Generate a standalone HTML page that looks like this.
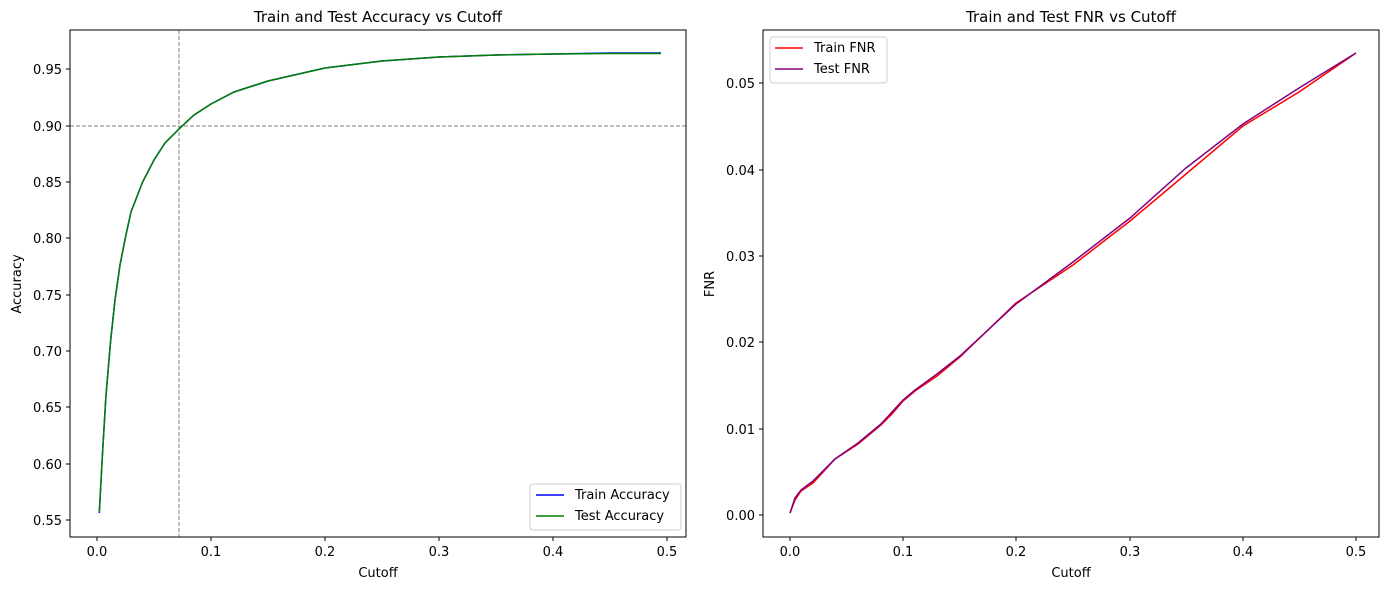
<!DOCTYPE html>
<html><head><style>body{margin:0;background:#fff}svg text{font-family:"DejaVu Sans","Liberation Sans",sans-serif;fill:#000}</style></head><body>
<svg width="1389" height="590" viewBox="0 0 1389 590" xmlns="http://www.w3.org/2000/svg">
<!-- LEFT -->
<text x="378" y="22" font-size="15" text-anchor="middle">Train and Test Accuracy vs Cutoff</text>
<g font-size="13" text-anchor="end">
<text x="62" y="525">0.55</text><text x="62" y="469">0.60</text><text x="62" y="412">0.65</text><text x="62" y="356">0.70</text><text x="62" y="300">0.75</text><text x="62" y="243">0.80</text><text x="62" y="187">0.85</text><text x="62" y="131">0.90</text><text x="62" y="74">0.95</text>
</g>
<g stroke="#000" stroke-width="1"><line x1="66" x2="70" y1="520" y2="520"/><line x1="66" x2="70" y1="464" y2="464"/><line x1="66" x2="70" y1="407" y2="407"/><line x1="66" x2="70" y1="351" y2="351"/><line x1="66" x2="70" y1="295" y2="295"/><line x1="66" x2="70" y1="238" y2="238"/><line x1="66" x2="70" y1="182" y2="182"/><line x1="66" x2="70" y1="126" y2="126"/><line x1="66" x2="70" y1="69" y2="69"/>
<line x1="97" x2="97" y1="537" y2="541"/><line x1="211" x2="211" y1="537" y2="541"/><line x1="325" x2="325" y1="537" y2="541"/><line x1="439" x2="439" y1="537" y2="541"/><line x1="553" x2="553" y1="537" y2="541"/><line x1="667" x2="667" y1="537" y2="541"/></g>
<g font-size="13" text-anchor="middle"><text x="97" y="556">0.0</text><text x="211" y="556">0.1</text><text x="325" y="556">0.2</text><text x="439" y="556">0.3</text><text x="553" y="556">0.4</text><text x="667" y="556">0.5</text>
<text x="378" y="577">Cutoff</text><text transform="translate(21,284) rotate(-90)">Accuracy</text></g>
<line x1="179" x2="179" y1="30" y2="537" stroke="#808080" stroke-dasharray="4,2"/>
<line x1="70" x2="686" y1="126" y2="126" stroke="#808080" stroke-dasharray="4,2"/>
<polyline fill="none" stroke="blue" stroke-width="1.5" points="99.3,513 102.7,450 106,395 110.7,340 115,300 120,265 125.5,237 131,212 142.6,182 154,160 165,143 179,129 194,115 211,104 234,92 268,81 325,68 382,61 439,57 496,55 553,54 610,53 661,53"/>
<polyline fill="none" stroke="green" stroke-width="1.5" points="99.3,512 102.7,450 106,395 110.7,340 115,300 120,265 125.5,237 131,212 142.6,182 154,160 165,143 179,129 194,115 211,104 234,92 268,81 325,68 382,61 439,57 496,55 553,54 610,53.5 661,53.5"/>
<rect x="70" y="30" width="616" height="507" fill="none" stroke="#000"/>
<rect x="530" y="484" width="151" height="46" rx="3" fill="#fff" stroke="#ccc"/>
<line x1="536" x2="564" y1="495" y2="495" stroke="blue" stroke-width="1.5"/><line x1="536" x2="564" y1="516" y2="516" stroke="green" stroke-width="1.5"/>
<text x="575" y="499" font-size="13">Train Accuracy</text><text x="575" y="520" font-size="13">Test Accuracy</text>
<!-- RIGHT -->
<text x="1071" y="22" font-size="15" text-anchor="middle">Train and Test FNR vs Cutoff</text>
<g font-size="13" text-anchor="end"><text x="755" y="520">0.00</text><text x="755" y="434">0.01</text><text x="755" y="347">0.02</text><text x="755" y="261">0.03</text><text x="755" y="175">0.04</text><text x="755" y="88">0.05</text></g>
<g stroke="#000"><line x1="759" x2="763" y1="515" y2="515"/><line x1="759" x2="763" y1="429" y2="429"/><line x1="759" x2="763" y1="342" y2="342"/><line x1="759" x2="763" y1="256" y2="256"/><line x1="759" x2="763" y1="170" y2="170"/><line x1="759" x2="763" y1="83" y2="83"/>
<line x1="790" x2="790" y1="537" y2="541"/><line x1="903" x2="903" y1="537" y2="541"/><line x1="1016" x2="1016" y1="537" y2="541"/><line x1="1130" x2="1130" y1="537" y2="541"/><line x1="1243" x2="1243" y1="537" y2="541"/><line x1="1356" x2="1356" y1="537" y2="541"/></g>
<g font-size="13" text-anchor="middle"><text x="790" y="556">0.0</text><text x="903" y="556">0.1</text><text x="1016" y="556">0.2</text><text x="1130" y="556">0.3</text><text x="1243" y="556">0.4</text><text x="1356" y="556">0.5</text>
<text x="1071" y="577">Cutoff</text><text transform="translate(714,284) rotate(-90)">FNR</text></g>
<polyline fill="none" stroke="red" stroke-width="1.5" points="790,513 795,500 801,491 813,483 835,459 858,444 881,425 892,414 903,401 915,391 937,376 960,357 1016,303 1073,265 1130,221 1186,174 1243,126 1299,92 1356,53"/>
<polyline fill="none" stroke="purple" stroke-width="1.5" points="790,513 795,498 801,490 813,481 835,459 858,443 881,424 892,412 903,400 915,390 937,374 960,356 1016,304 1073,262 1130,218 1186,168 1243,124 1299,88 1356,53"/>
<rect x="763" y="30" width="616" height="507" fill="none" stroke="#000"/>
<rect x="770" y="37" width="117" height="46" rx="3" fill="#fff" stroke="#ccc"/>
<line x1="775" x2="803" y1="48" y2="48" stroke="red" stroke-width="1.5"/><line x1="775" x2="803" y1="69" y2="69" stroke="purple" stroke-width="1.5"/>
<text x="814" y="52" font-size="13">Train FNR</text><text x="814" y="73" font-size="13">Test FNR</text>
</svg>
</body></html>
